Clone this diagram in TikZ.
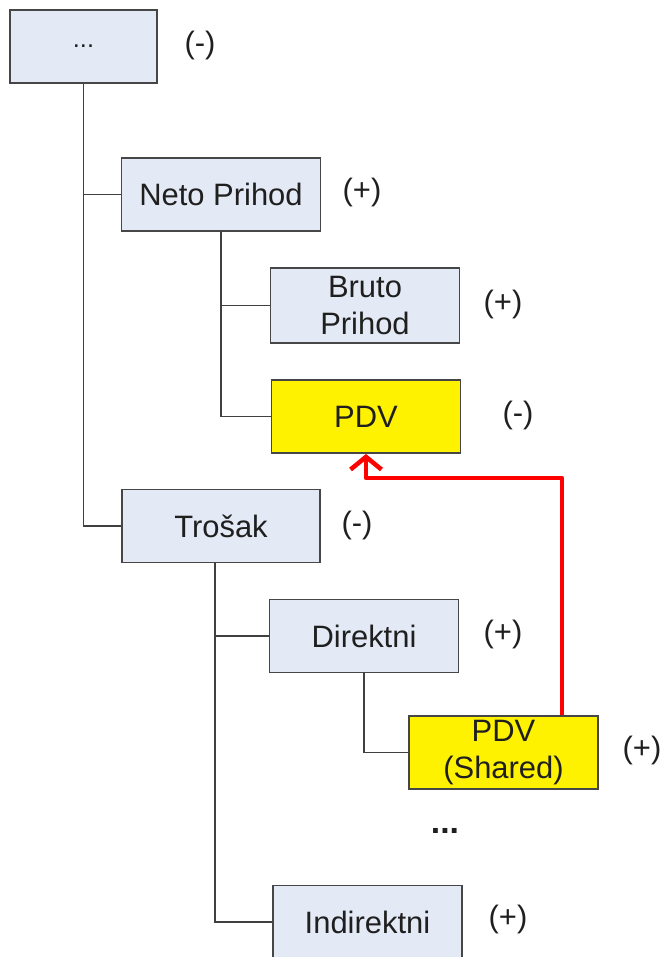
\documentclass[tikz,border=0pt]{standalone}
\usepackage{fontspec}
\setmainfont{Liberation Sans}
\usetikzlibrary{arrows.meta}
\definecolor{boxblue}{RGB}{227,233,245}
\definecolor{boxline}{RGB}{70,70,70}

\begin{document}
\begin{tikzpicture}[x=0.025cm, y=-0.025cm,
        every node/.style={font=\fontsize{22}{26}\selectfont, text=black!88},
        box/.style={draw=boxline, line width=1.2pt, fill=boxblue, minimum width=4.72cm, minimum height=1.83cm, align=center, inner sep=0pt},
        hibox/.style={box, fill=yellow},
        treeline/.style={draw=black!75, line width=1pt},
        linkline/.style={draw=red, line width=3.2pt, line join=round, -{Straight Barb[length=9pt, width=22pt, line width=3.2pt]}}]
        \useasboundingbox (0,0) rectangle (667,957);
        % boxes
        \node[box, minimum width=3.68cm, font=\fontsize{18}{21}\selectfont] (top) at (83.5,46.5) {...};
        \node[box, minimum width=4.97cm] (neto) at (221,194.5) {Neto Prihod};
        \node[box, minimum height=1.88cm] (bruto) at (365,305.5) {Bruto\\Prihod};
        \node[hibox] (pdv) at (366,416.5) {PDV};
        \node[box, minimum width=4.95cm] (trosak) at (221,526) {Trošak};
        \node[box] (direktni) at (364,636) {Direktni};
        \node[hibox] (shared) at (503.5,752.5) {PDV\\(Shared)};
        \node[font=\fontsize{24}{28}\selectfont\bfseries] (more) at (445,831) {...};
        \node[box] (indirektni) at (367.5,922) {Indirektni};
        % signs
        \node (topsign) at (200,45) {(-)};
        \node (netosign) at (362,192) {(+)};
        \node (brutosign) at (503,304) {(+)};
        \node (pdvsign) at (518,415) {(-)};
        \node (trosaksign) at (357,525) {(-)};
        \node (direktnisign) at (503,634) {(+)};
        \node (sharedsign) at (642,750) {(+)};
        \node (indirektnisign) at (508,919) {(+)};
        % tree
        \draw[treeline] (top.south) |- (neto.west);
        \draw[treeline] (top.south) |- (trosak.west);
        \draw[treeline] (neto.south) |- (bruto.west);
        \draw[treeline] (neto.south) |- (pdv.west);
        \draw[treeline] ([xshift=-0.15cm]trosak.south) |- (direktni.west);
        \draw[treeline] ([xshift=-0.15cm]trosak.south) |- (indirektni.west);
        \draw[treeline] (direktni.south) |- (shared.west);
        % shared link
        \coordinate (turn) at (366,478);
        \draw[linkline] ([xshift=1.46cm]shared.north) |- (turn) -- (pdv.south);
\end{tikzpicture}
\end{document}
